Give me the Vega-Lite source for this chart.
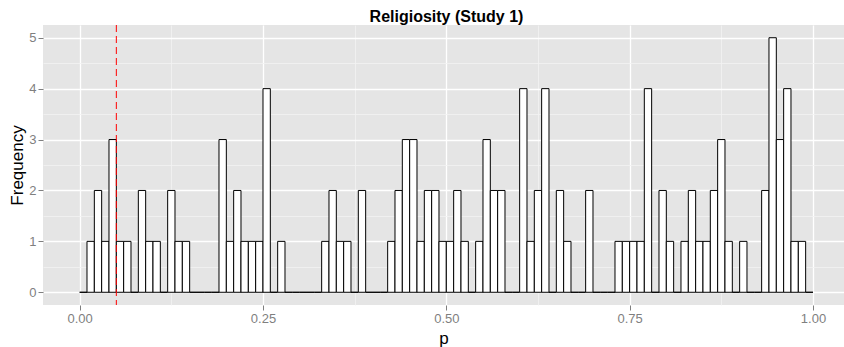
{
  "$schema": "https://vega.github.io/schema/vega-lite/v6.json",
  "width": 801,
  "height": 280,
  "autosize": "none",
  "padding": {"left": 43, "top": 25, "right": 0, "bottom": 42},
  "background": "#FFFFFF",
  "title": {
    "text": "Religiosity (Study 1)",
    "font": "Liberation Sans",
    "fontSize": 16,
    "fontWeight": "bold",
    "color": "#000000",
    "anchor": "middle",
    "frame": "group",
    "baseline": "alphabetic",
    "offset": 4,
    "dx": 3,
    "dy": 17
  },
  "config": {
    "view": {"fill": "#E5E5E5", "stroke": null},
    "font": "Liberation Sans"
  },
  "layer": [
    {
      "data": {
        "values": [
          {"lo": 0.00, "hi": 0.01, "n": 0}, {"lo": 0.01, "hi": 0.02, "n": 1}, {"lo": 0.02, "hi": 0.03, "n": 2}, {"lo": 0.03, "hi": 0.04, "n": 1}, {"lo": 0.04, "hi": 0.05, "n": 3},
          {"lo": 0.05, "hi": 0.06, "n": 1}, {"lo": 0.06, "hi": 0.07, "n": 1}, {"lo": 0.07, "hi": 0.08, "n": 0}, {"lo": 0.08, "hi": 0.09, "n": 2}, {"lo": 0.09, "hi": 0.10, "n": 1},
          {"lo": 0.10, "hi": 0.11, "n": 1}, {"lo": 0.11, "hi": 0.12, "n": 0}, {"lo": 0.12, "hi": 0.13, "n": 2}, {"lo": 0.13, "hi": 0.14, "n": 1}, {"lo": 0.14, "hi": 0.15, "n": 1},
          {"lo": 0.15, "hi": 0.16, "n": 0}, {"lo": 0.16, "hi": 0.17, "n": 0}, {"lo": 0.17, "hi": 0.18, "n": 0}, {"lo": 0.18, "hi": 0.19, "n": 0}, {"lo": 0.19, "hi": 0.20, "n": 3},
          {"lo": 0.20, "hi": 0.21, "n": 1}, {"lo": 0.21, "hi": 0.22, "n": 2}, {"lo": 0.22, "hi": 0.23, "n": 1}, {"lo": 0.23, "hi": 0.24, "n": 1}, {"lo": 0.24, "hi": 0.25, "n": 1},
          {"lo": 0.25, "hi": 0.26, "n": 4}, {"lo": 0.26, "hi": 0.27, "n": 0}, {"lo": 0.27, "hi": 0.28, "n": 1}, {"lo": 0.28, "hi": 0.29, "n": 0}, {"lo": 0.29, "hi": 0.30, "n": 0},
          {"lo": 0.30, "hi": 0.31, "n": 0}, {"lo": 0.31, "hi": 0.32, "n": 0}, {"lo": 0.32, "hi": 0.33, "n": 0}, {"lo": 0.33, "hi": 0.34, "n": 1}, {"lo": 0.34, "hi": 0.35, "n": 2},
          {"lo": 0.35, "hi": 0.36, "n": 1}, {"lo": 0.36, "hi": 0.37, "n": 1}, {"lo": 0.37, "hi": 0.38, "n": 0}, {"lo": 0.38, "hi": 0.39, "n": 2}, {"lo": 0.39, "hi": 0.40, "n": 0},
          {"lo": 0.40, "hi": 0.41, "n": 0}, {"lo": 0.41, "hi": 0.42, "n": 0}, {"lo": 0.42, "hi": 0.43, "n": 1}, {"lo": 0.43, "hi": 0.44, "n": 2}, {"lo": 0.44, "hi": 0.45, "n": 3},
          {"lo": 0.45, "hi": 0.46, "n": 3}, {"lo": 0.46, "hi": 0.47, "n": 1}, {"lo": 0.47, "hi": 0.48, "n": 2}, {"lo": 0.48, "hi": 0.49, "n": 2}, {"lo": 0.49, "hi": 0.50, "n": 1},
          {"lo": 0.50, "hi": 0.51, "n": 1}, {"lo": 0.51, "hi": 0.52, "n": 2}, {"lo": 0.52, "hi": 0.53, "n": 1}, {"lo": 0.53, "hi": 0.54, "n": 0}, {"lo": 0.54, "hi": 0.55, "n": 1},
          {"lo": 0.55, "hi": 0.56, "n": 3}, {"lo": 0.56, "hi": 0.57, "n": 2}, {"lo": 0.57, "hi": 0.58, "n": 2}, {"lo": 0.58, "hi": 0.59, "n": 0}, {"lo": 0.59, "hi": 0.60, "n": 0},
          {"lo": 0.60, "hi": 0.61, "n": 4}, {"lo": 0.61, "hi": 0.62, "n": 1}, {"lo": 0.62, "hi": 0.63, "n": 2}, {"lo": 0.63, "hi": 0.64, "n": 4}, {"lo": 0.64, "hi": 0.65, "n": 0},
          {"lo": 0.65, "hi": 0.66, "n": 2}, {"lo": 0.66, "hi": 0.67, "n": 1}, {"lo": 0.67, "hi": 0.68, "n": 0}, {"lo": 0.68, "hi": 0.69, "n": 0}, {"lo": 0.69, "hi": 0.70, "n": 2},
          {"lo": 0.70, "hi": 0.71, "n": 0}, {"lo": 0.71, "hi": 0.72, "n": 0}, {"lo": 0.72, "hi": 0.73, "n": 0}, {"lo": 0.73, "hi": 0.74, "n": 1}, {"lo": 0.74, "hi": 0.75, "n": 1},
          {"lo": 0.75, "hi": 0.76, "n": 1}, {"lo": 0.76, "hi": 0.77, "n": 1}, {"lo": 0.77, "hi": 0.78, "n": 4}, {"lo": 0.78, "hi": 0.79, "n": 0}, {"lo": 0.79, "hi": 0.80, "n": 2},
          {"lo": 0.80, "hi": 0.81, "n": 1}, {"lo": 0.81, "hi": 0.82, "n": 0}, {"lo": 0.82, "hi": 0.83, "n": 1}, {"lo": 0.83, "hi": 0.84, "n": 2}, {"lo": 0.84, "hi": 0.85, "n": 1},
          {"lo": 0.85, "hi": 0.86, "n": 1}, {"lo": 0.86, "hi": 0.87, "n": 2}, {"lo": 0.87, "hi": 0.88, "n": 3}, {"lo": 0.88, "hi": 0.89, "n": 1}, {"lo": 0.89, "hi": 0.90, "n": 0},
          {"lo": 0.90, "hi": 0.91, "n": 1}, {"lo": 0.91, "hi": 0.92, "n": 0}, {"lo": 0.92, "hi": 0.93, "n": 0}, {"lo": 0.93, "hi": 0.94, "n": 2}, {"lo": 0.94, "hi": 0.95, "n": 5},
          {"lo": 0.95, "hi": 0.96, "n": 3}, {"lo": 0.96, "hi": 0.97, "n": 4}, {"lo": 0.97, "hi": 0.98, "n": 1}, {"lo": 0.98, "hi": 0.99, "n": 1}, {"lo": 0.99, "hi": 1.00, "n": 0}
        ]
      },
      "mark": {"type": "bar", "fill": "#FFFFFF", "stroke": "#000000", "strokeWidth": 1, "clip": true},
      "encoding": {
        "x": {
          "field": "lo",
          "type": "quantitative",
          "scale": {"domain": [-0.05, 1.0423], "nice": false, "zero": false},
          "axis": {
            "title": "p",
            "values": [0, 0.125, 0.25, 0.375, 0.5, 0.625, 0.75, 0.875, 1],
            "labelExpr": "round(datum.value*8) % 2 === 0 ? format(datum.value, '.2f') : ''",
            "labelFont": "Liberation Sans",
            "labelFontSize": 13,
            "labelColor": "#7F7F7F",
            "labelPadding": 2,
            "labelFlush": false,
            "labelOverlap": false,
            "tickColor": "#7F7F7F",
            "tickSize": 5,
            "tickWidth": 1,
            "tickOpacity": {"condition": {"test": "round(datum.value*8) % 2 === 0", "value": 1}, "value": 0},
            "domain": false,
            "grid": true,
            "gridColor": {"condition": {"test": "round(datum.value*8) % 2 === 0", "value": "#FFFFFF"}, "value": "#F2F2F2"},
            "gridWidth": {"condition": {"test": "round(datum.value*8) % 2 === 0", "value": 1.3}, "value": 0.8},
            "titleFont": "Liberation Sans",
            "titleFontSize": 17,
            "titleFontWeight": "normal",
            "titleColor": "#000000",
            "titleBaseline": "alphabetic",
            "titleY": 38
          }
        },
        "x2": {"field": "hi"},
        "y": {
          "field": "n",
          "type": "quantitative",
          "scale": {"domain": [-0.25, 5.25], "nice": false, "zero": false},
          "axis": {
            "title": "Frequency",
            "values": [0, 0.5, 1, 1.5, 2, 2.5, 3, 3.5, 4, 4.5, 5],
            "labelExpr": "datum.value % 1 === 0 ? format(datum.value, 'd') : ''",
            "labelFont": "Liberation Sans",
            "labelFontSize": 13,
            "labelColor": "#7F7F7F",
            "labelPadding": 2,
            "labelFlush": false,
            "labelOverlap": false,
            "tickColor": "#7F7F7F",
            "tickSize": 5,
            "tickWidth": 1,
            "tickOpacity": {"condition": {"test": "datum.value % 1 === 0", "value": 1}, "value": 0},
            "domain": false,
            "grid": true,
            "gridColor": {"condition": {"test": "datum.value % 1 === 0", "value": "#FFFFFF"}, "value": "#F2F2F2"},
            "gridWidth": {"condition": {"test": "datum.value % 1 === 0", "value": 1.3}, "value": 0.8},
            "titleFont": "Liberation Sans",
            "titleFontSize": 17,
            "titleFontWeight": "normal",
            "titleColor": "#000000",
            "titleAngle": -90,
            "titleBaseline": "alphabetic",
            "titleX": -21,
            "titleY": 140
          }
        },
        "y2": {"datum": 0}
      }
    },
    {
      "data": {"values": [{"p": 0.05}]},
      "mark": {"type": "rule", "color": "#FF0000", "strokeWidth": 1, "strokeDash": [7, 4]},
      "encoding": {
        "x": {"field": "p", "type": "quantitative"}
      }
    }
  ]
}
